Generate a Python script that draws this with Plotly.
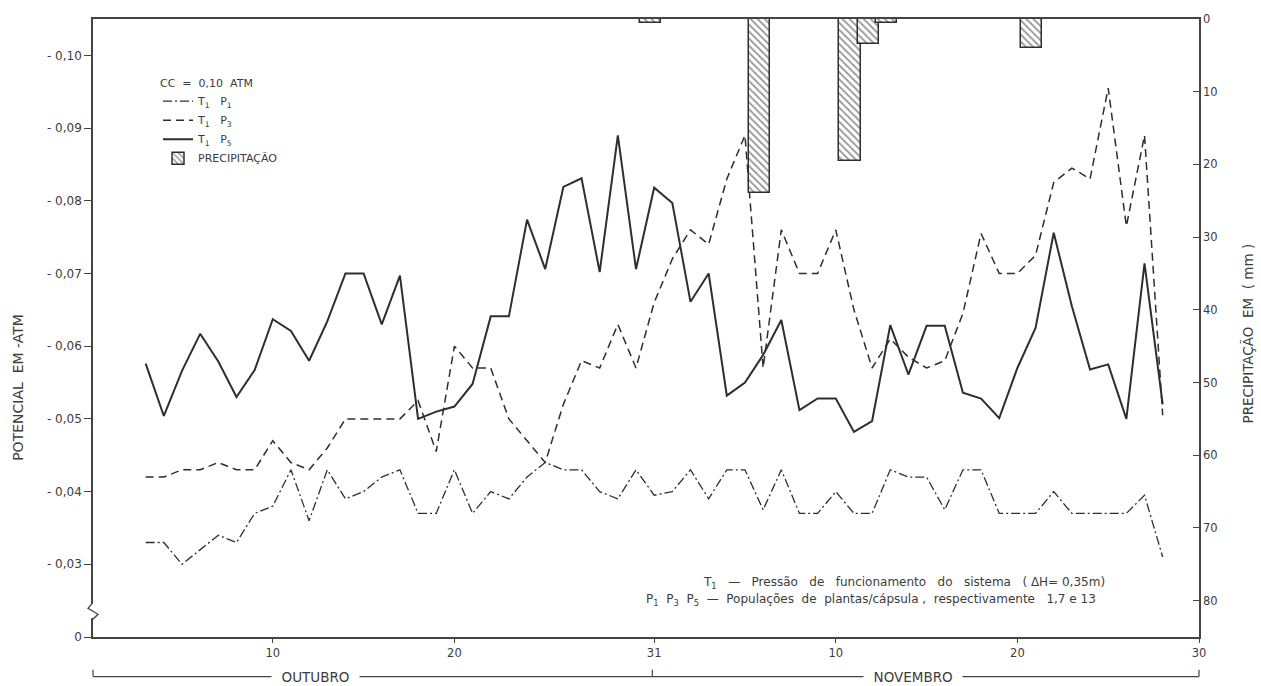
import plotly.graph_objects as go

# Dias do período (3 = 3 de outubro, 32 = 1 de novembro, 59 = 28 de novembro)
dias = list(range(3, 60))

# Potencial matricial (atm) por tratamento
t1_p1 = [-0.033, -0.033, -0.030, -0.032, -0.034, -0.033, -0.037, -0.038, -0.043, -0.036,
         -0.043, -0.039, -0.040, -0.042, -0.043, -0.037, -0.037, -0.043, -0.037, -0.040,
         -0.039, -0.042, -0.044, -0.043, -0.043, -0.040, -0.039, -0.043, -0.0395, -0.040,
         -0.043, -0.039, -0.043, -0.043, -0.0375, -0.043, -0.037, -0.037, -0.040, -0.037,
         -0.037, -0.043, -0.042, -0.042, -0.0375, -0.043, -0.043, -0.037, -0.037, -0.037,
         -0.040, -0.037, -0.037, -0.037, -0.037, -0.0395, -0.031]
t1_p3 = [-0.042, -0.042, -0.043, -0.043, -0.044, -0.043, -0.043, -0.047, -0.044, -0.043,
         -0.046, -0.050, -0.050, -0.050, -0.050, -0.0525, -0.0455, -0.060, -0.057, -0.057,
         -0.050, -0.047, -0.044, -0.052, -0.058, -0.057, -0.063, -0.057, -0.066, -0.072,
         -0.076, -0.074, -0.083, -0.089, -0.057, -0.076, -0.070, -0.070, -0.076, -0.065,
         -0.057, -0.061, -0.0585, -0.057, -0.058, -0.0645, -0.0755, -0.070, -0.070, -0.0725,
         -0.0825, -0.0845, -0.083, -0.0955, -0.0765, -0.089, -0.0505]
t1_p5 = [-0.0576, -0.0504, -0.0566, -0.0617, -0.0579, -0.053, -0.0567, -0.0637, -0.0621, -0.058,
         -0.0634, -0.070, -0.070, -0.063, -0.0697, -0.050, -0.051, -0.0517, -0.0548, -0.0641,
         -0.0641, -0.0774, -0.0706, -0.0819, -0.0831, -0.0702, -0.089, -0.0706, -0.0818, -0.0797,
         -0.0661, -0.070, -0.0532, -0.055, -0.0588, -0.0636, -0.0512, -0.0528, -0.0528, -0.0482,
         -0.0497, -0.0629, -0.0561, -0.0628, -0.0628, -0.0536, -0.0528, -0.0501, -0.057, -0.0625,
         -0.0756, -0.0655, -0.0568, -0.0575, -0.050, -0.0714, -0.052]

# Precipitação (mm)
dias_chuva = [31, 37, 42, 43, 44, 52]
chuva_mm = [0.5, 24, 19.5, 3.5, 0.5, 4]

# Eixos
x_ticks = [10, 20, 31, 41, 51, 61]
x_ticktext = ["10", "20", "31", "10", "20", "30"]
y_ticks = [-0.02, -0.03, -0.04, -0.05, -0.06, -0.07, -0.08, -0.09, -0.10]
y_ticktext = ["0", "- 0,03", "- 0,04", "- 0,05", "- 0,06", "- 0,07", "- 0,08", "- 0,09", "- 0,10"]
y2_ticks = [0, 10, 20, 30, 40, 50, 60, 70, 80]

INK = "#2e2e2e"
AXIS = "#444444"
TEXT = "#3c3c3c"
FONT = "DejaVu Sans"

fig = go.Figure()

fig.add_trace(go.Scatter(
    x=dias, y=t1_p1, mode="lines", name="T<sub>1</sub>   P<sub>1</sub>",
    line=dict(color=INK, width=1.3, dash="9px,3px,2px,3px")))
fig.add_trace(go.Scatter(
    x=dias, y=t1_p3, mode="lines", name="T<sub>1</sub>   P<sub>3</sub>",
    line=dict(color=INK, width=1.5, dash="8px,5px")))
fig.add_trace(go.Scatter(
    x=dias, y=t1_p5, mode="lines", name="T<sub>1</sub>   P<sub>5</sub>",
    line=dict(color=INK, width=2)))
fig.add_trace(go.Bar(
    x=dias_chuva, y=chuva_mm, base=0, yaxis="y2", width=1.18, offset=-0.8,
    name="PRECIPITAÇÃO",
    marker=dict(color="white", line=dict(color=INK, width=1.5),
                pattern=dict(shape="\\", fgcolor=INK, bgcolor="white", size=5, solidity=0.35))))

# Papel: conversão de pixel para coordenada do gráfico
L, R, T, B = 93, 62, 12, 49
W, H = 1261, 686
PW, PH = W - L - R, H - T - B


def px_x(px):
    return (px - L) / PW


def px_y(py):
    return 1 - (py - T) / PH


shapes = []
# linha dos meses sob o eixo x
yb, yh = px_y(677), px_y(670)
shapes.append(dict(type="line", xref="paper", yref="paper", x0=0, x1=1, y0=yb, y1=yb,
                   line=dict(color=AXIS, width=1.2)))
for xp in (0, 1, (30.9 - 0.1) / 60.9):
    shapes.append(dict(type="line", xref="paper", yref="paper", x0=xp, x1=xp, y0=yb, y1=yh,
                       line=dict(color=AXIS, width=1.2)))
# quebra do eixo vertical
shapes.append(dict(type="rect", xref="paper", yref="paper",
                   x0=px_x(89), x1=px_x(97), y0=px_y(618), y1=px_y(603),
                   line=dict(width=0), fillcolor="white", layer="above"))
zig = "M {a},{b} L {c},{d} L {e},{f} L {g},{h}".format(
    a=px_x(93), b=px_y(619), c=px_x(98), d=px_y(614),
    e=px_x(88), f=px_y(608), g=px_x(93), h=px_y(602))
shapes.append(dict(type="path", xref="paper", yref="paper", path=zig,
                   line=dict(color=AXIS, width=1.3), layer="above"))


def note(text, xp, yp, size, xanchor="center", angle=0, bg=None):
    d = dict(text=text, xref="paper", yref="paper", x=px_x(xp), y=px_y(yp),
             xanchor=xanchor, yanchor="middle", textangle=angle, showarrow=False,
             font=dict(size=size, color=TEXT))
    if bg:
        d["bgcolor"] = bg
    return d


annotations = [
    note("POTENCIAL  EM -ATM", 18, 385, 14, angle=-90),
    note("PRECIPITAÇÃO  EM  ( mm )", 1248, 330, 13.5, angle=-90),
    note("T<sub>1</sub>   —   Pressão   de   funcionamento   do   sistema   ( ΔH= 0,35m)",
         1107, 582, 12, xanchor="right"),
    note("P<sub>1</sub>  P<sub>3</sub>  P<sub>5</sub>  —  Populações  de  plantas/cápsula ,  respectivamente   1,7 e 13",
         1098, 600, 12, xanchor="right"),
    note("  OUTUBRO  ", 315, 677, 13.5, bg="white"),
    note("  NOVEMBRO  ", 913, 677, 13.5, bg="white"),
]

fig.update_layout(
    width=W, height=H,
    margin=dict(l=L, r=R, t=T, b=B),
    paper_bgcolor="white", plot_bgcolor="white",
    font=dict(family=FONT, color=TEXT, size=11),
    bargap=0,
    showlegend=True,
    legend=dict(x=px_x(158), y=px_y(66), xanchor="left", yanchor="top",
                bgcolor="rgba(0,0,0,0)", font=dict(size=11, color=TEXT),
                title=dict(text="CC  =  0,10  ATM", font=dict(size=11, color=TEXT)),
                tracegroupgap=0, itemwidth=30),
    xaxis=dict(range=[0.1, 61], tickvals=x_ticks, ticktext=x_ticktext,
               showline=True, linecolor=AXIS, linewidth=1.5, mirror=True,
               ticks="outside", ticklen=4, tickcolor=AXIS, showgrid=False, zeroline=False,
               tickfont=dict(size=11.5)),
    yaxis=dict(range=[-0.02, -0.105], tickvals=y_ticks, ticktext=y_ticktext,
               showline=True, linecolor=AXIS, linewidth=1.5,
               ticks="outside", ticklen=7, tickcolor=AXIS, showgrid=False, zeroline=False,
               tickfont=dict(size=12)),
    yaxis2=dict(overlaying="y", side="right", range=[85, 0], tickvals=y2_ticks,
                showline=True, linecolor=AXIS, linewidth=1.5,
                ticks="inside", ticklen=6, tickcolor=AXIS, showgrid=False, zeroline=False,
                tickfont=dict(size=11.5)),
    shapes=shapes,
    annotations=annotations,
)

fig.write_html("out.html")
